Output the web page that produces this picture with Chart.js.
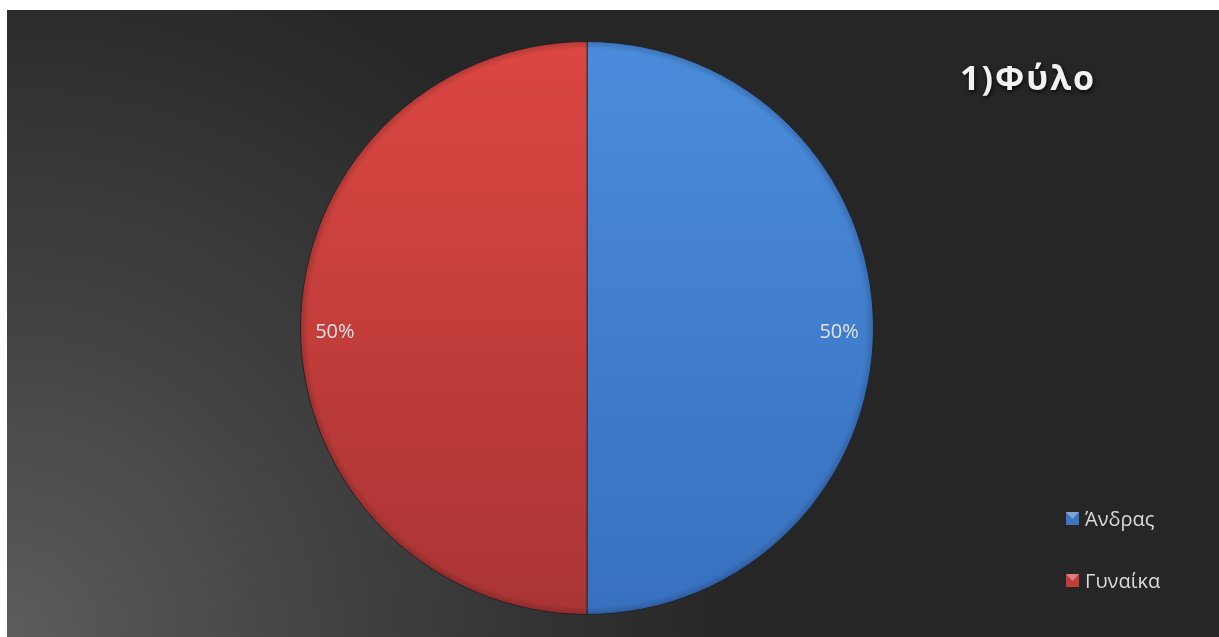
<!DOCTYPE html>
<html>
<head>
<meta charset="utf-8">
<script src="https://cdn.jsdelivr.net/npm/chart.js@4/dist/chart.umd.min.js"></script>
<style>
  html, body { margin: 0; padding: 0; background: #ffffff; }
  #wrap { position: absolute; left: 7px; top: 10px; width: 1212px; height: 627px; }
</style>
</head>
<body>
<div id="wrap"><canvas id="genderChart"></canvas></div>
<script>
// Gender split of the respondents
const chartTitle = '1)Φύλο';
const categories = ['Άνδρας', 'Γυναίκα'];
const shares = [50, 50];
const sliceTop = ['#4a8cdb', '#dc4742'];
const sliceBottom = ['#3870bf', '#a93434'];
const sliceLegend = ['#3e74c2', '#c23c3a'];

function sliceFill(context) {
    const chart = context.chart;
    const area = chart.chartArea;
    if (!area) return sliceTop[context.dataIndex];
    const ctx = chart.ctx;
    const g = ctx.createLinearGradient(0, area.top, 0, area.bottom);
    g.addColorStop(0, sliceTop[context.dataIndex]);
    g.addColorStop(1, sliceBottom[context.dataIndex]);
    return g;
}

// dark backdrop, lighter towards the bottom-left corner
const backdrop = {
    id: 'backdrop',
    beforeDraw(chart) {
        const { ctx, width, height } = chart;
        const g = ctx.createRadialGradient(0, height, 0, 0, height, 720);
        g.addColorStop(0, '#5c5c5c');
        g.addColorStop(0.45, '#424242');
        g.addColorStop(1, '#262626');
        ctx.save();
        ctx.fillStyle = g;
        ctx.fillRect(0, 0, width, height);
        ctx.restore();
    }
};

// soft rim round the pie
const rim = {
    id: 'rim',
    afterDatasetsDraw(chart) {
        const ctx = chart.ctx;
        const arc = chart.getDatasetMeta(0).data[0];
        const p = arc.getProps(['x', 'y', 'outerRadius'], true);
        ctx.save();
        const g = ctx.createRadialGradient(p.x, p.y, p.outerRadius - 8, p.x, p.y, p.outerRadius);
        g.addColorStop(0, 'rgba(0,0,0,0)');
        g.addColorStop(1, 'rgba(0,0,0,0.18)');
        ctx.fillStyle = g;
        ctx.beginPath();
        ctx.arc(p.x, p.y, p.outerRadius, 0, Math.PI * 2);
        ctx.fill();
        ctx.restore();
    }
};

// percentage labels, title and legend
const decorations = {
    id: 'decorations',
    afterDraw(chart) {
        const ctx = chart.ctx;
        const meta = chart.getDatasetMeta(0);
        const total = shares.reduce((a, b) => a + b, 0);
        ctx.save();
        ctx.font = '20px "Open Sans", sans-serif';
        ctx.fillStyle = '#e2e2e2';
        ctx.textAlign = 'center';
        ctx.textBaseline = 'middle';
        meta.data.forEach((arc, i) => {
            const p = arc.getProps(['x', 'y', 'startAngle', 'endAngle', 'outerRadius'], true);
            const mid = (p.startAngle + p.endAngle) / 2;
            const r = p.outerRadius * 0.88;
            const pct = Math.round(shares[i] / total * 100) + '%';
            ctx.fillText(pct, p.x + Math.cos(mid) * r, p.y + Math.sin(mid) * r + 4);
        });

        ctx.font = 'bold 34px "Open Sans", sans-serif';
        ctx.letterSpacing = '2px';
        ctx.textAlign = 'left';
        ctx.shadowColor = 'rgba(0,0,0,0.8)';
        ctx.shadowBlur = 4;
        ctx.shadowOffsetX = 1;
        ctx.shadowOffsetY = 2;
        ctx.fillStyle = '#f2f2f2';
        ctx.fillText(chartTitle, 953, 70);
        ctx.shadowColor = 'transparent';
        ctx.letterSpacing = '0px';

        ctx.font = '20px "Open Sans", sans-serif';
        categories.forEach((name, i) => {
            const y = 508 + i * 62;
            ctx.fillStyle = sliceLegend[i];
            ctx.fillRect(1059, y - 6, 13, 13);
            ctx.fillStyle = 'rgba(255,255,255,0.35)';
            ctx.beginPath();
            ctx.moveTo(1059, y - 6);
            ctx.lineTo(1072, y - 6);
            ctx.lineTo(1065.5, y + 1);
            ctx.closePath();
            ctx.fill();
            ctx.fillStyle = '#dadada';
            ctx.fillText(name, 1078, y + 2);
        });
        ctx.restore();
    }
};

const ctxGender = document.getElementById('genderChart').getContext('2d');
new Chart(ctxGender, {
    type: 'pie',
    data: {
        labels: categories,
        datasets: [{
            data: shares,
            backgroundColor: sliceFill,
            borderColor: 'rgba(30,30,45,0.85)',
            borderWidth: 1,
        }]
    },
    options: {
        responsive: true,
        maintainAspectRatio: false,
        animation: false,
        layout: { padding: { left: 0, right: 52, top: 31, bottom: 22 } },
        plugins: {
            legend: { display: false },
            tooltip: { enabled: false },
        }
    },
    plugins: [backdrop, rim, decorations]
});
</script>
</body>
</html>
